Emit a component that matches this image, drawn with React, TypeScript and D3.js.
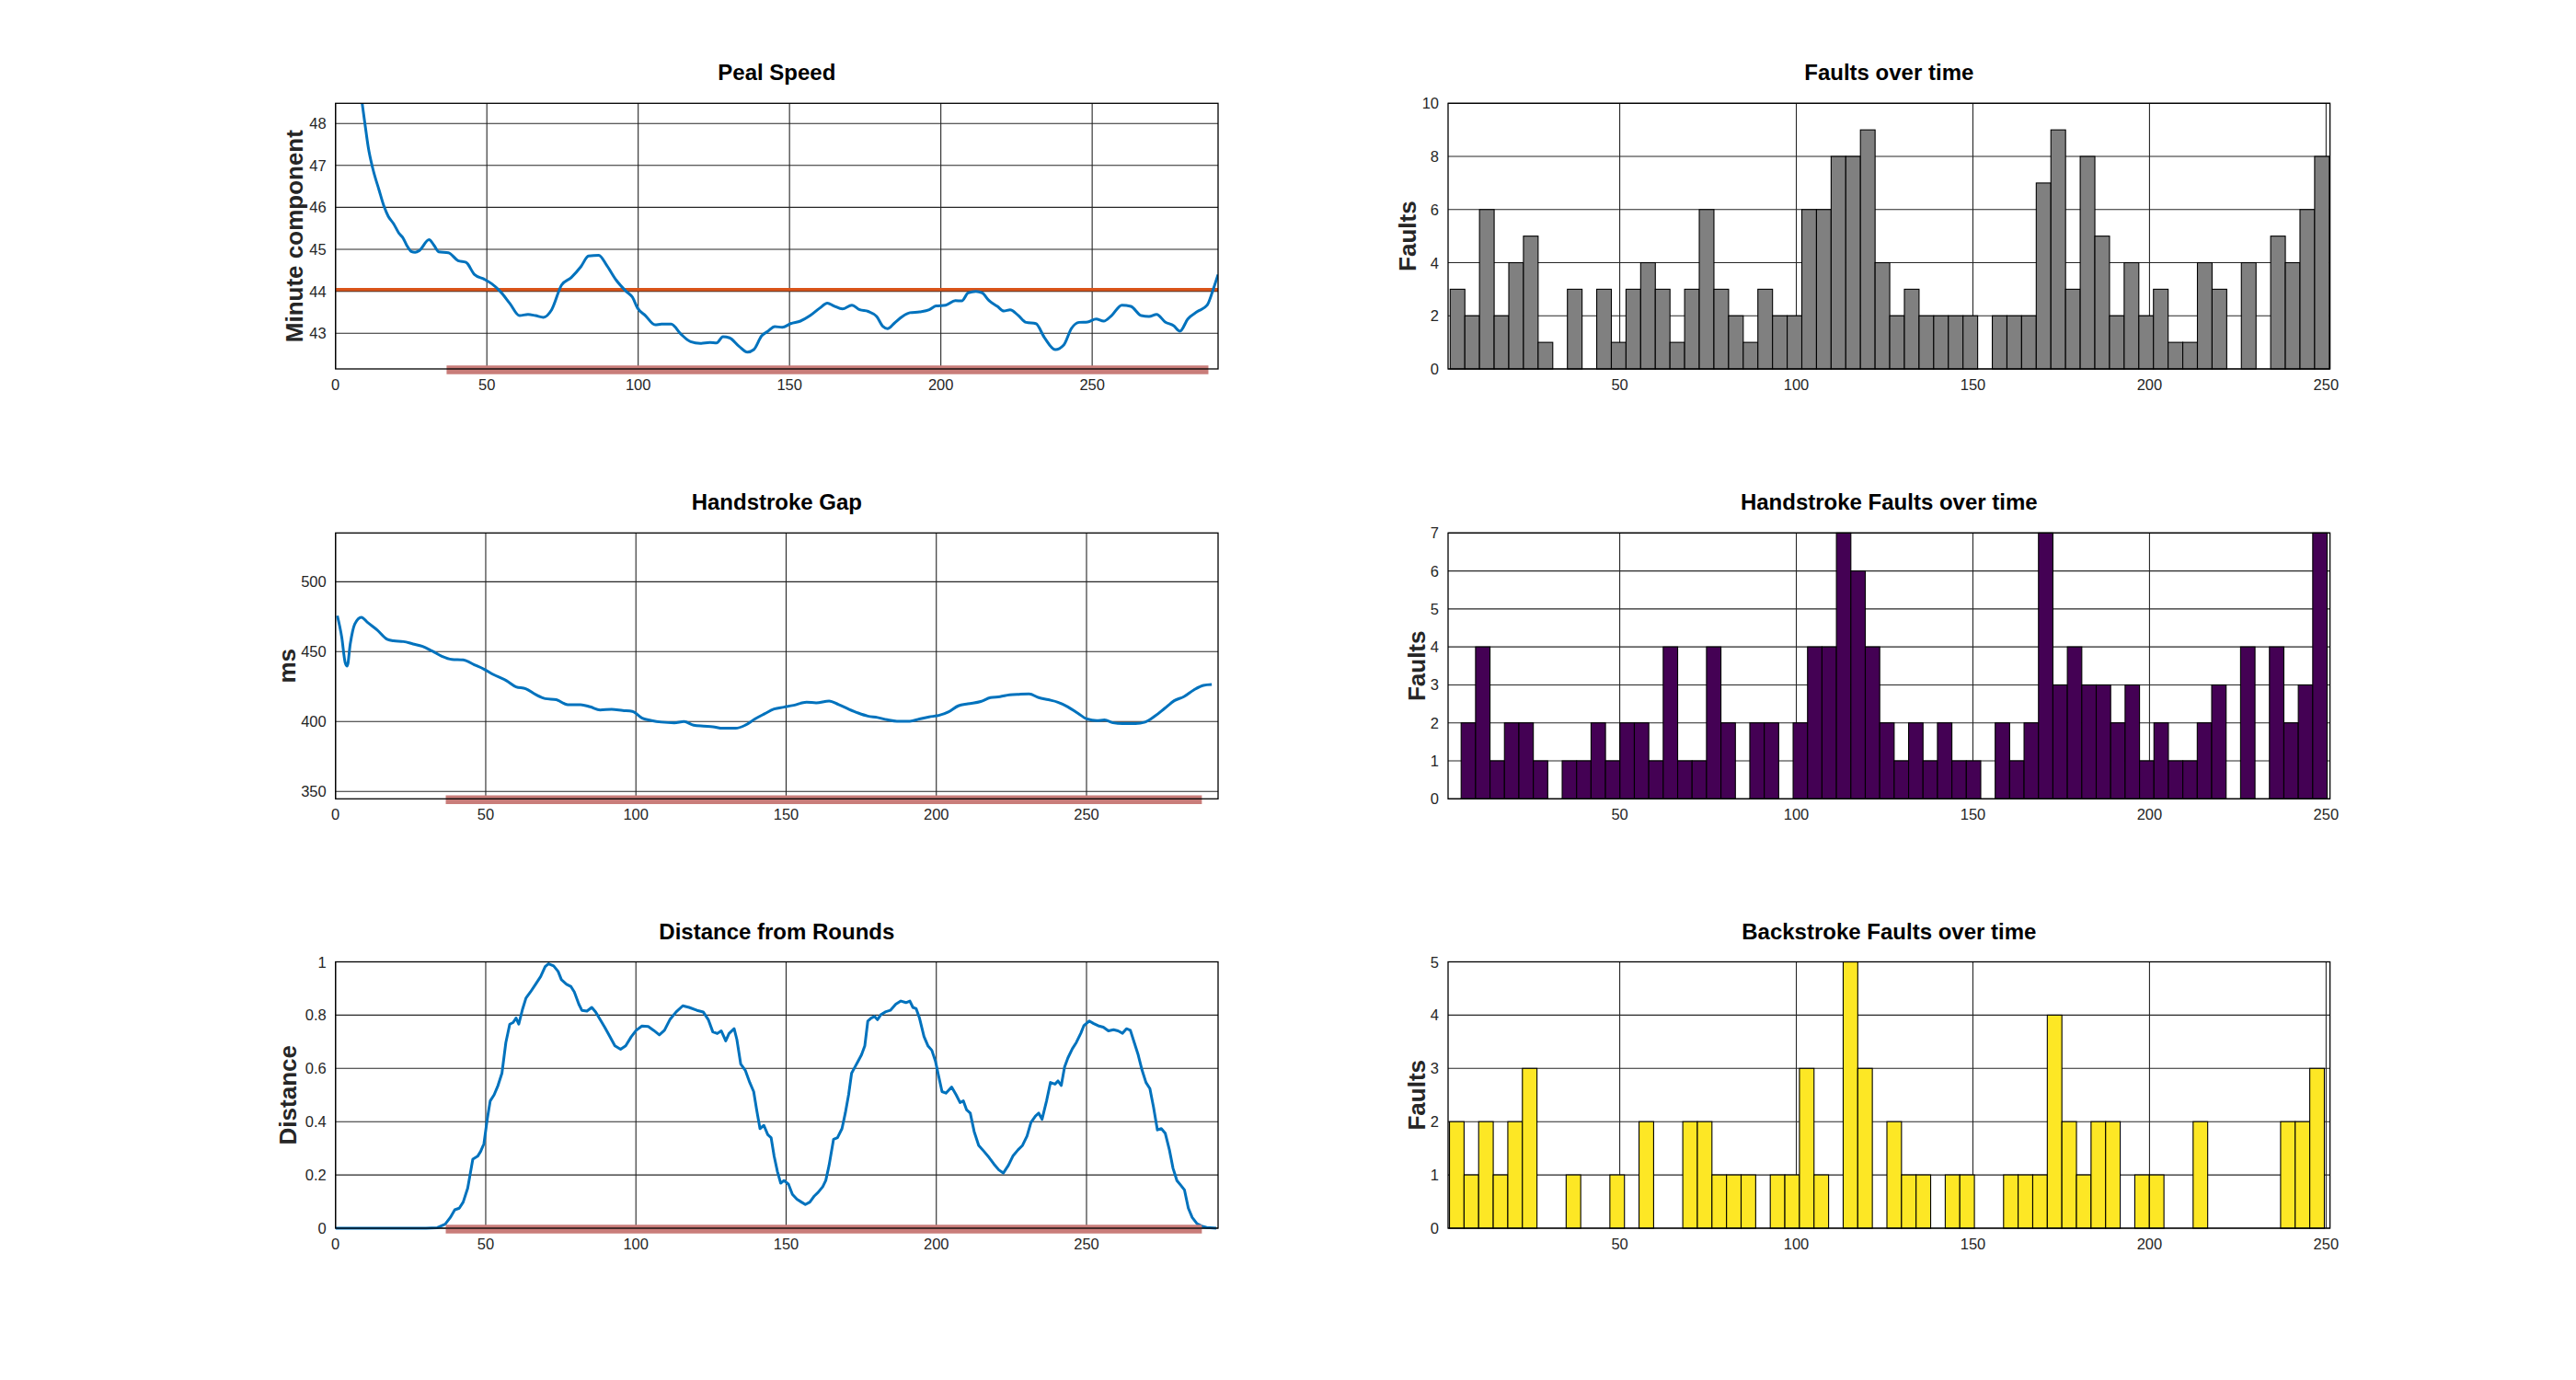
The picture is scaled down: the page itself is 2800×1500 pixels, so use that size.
import React from 'react';
import * as d3 from 'd3';

const FONT = '"Liberation Sans", Arial, Helvetica, sans-serif';

type Pt = [number, number];

// ---------- data ----------
const pealSpeed: Pt[] = [
  [8.8, 48.48], [9.8, 47.95], [10.8, 47.44], [12.3, 46.93], [14.4, 46.41], [16.0, 46.03], [17.4, 45.79],
  [19.2, 45.61], [20.9, 45.39], [22.4, 45.26], [23.5, 45.1], [25.0, 44.95], [26.3, 44.93], [27.7, 44.97],
  [30.9, 45.23], [32.5, 45.1], [34.1, 44.94], [37.3, 44.92], [40.5, 44.73], [43.1, 44.69], [45.9, 44.4],
  [49.1, 44.29], [51.6, 44.18], [54.4, 44.0], [57.6, 43.71], [60.8, 43.42], [63.6, 43.45], [66.1, 43.42],
  [68.7, 43.38], [71.4, 43.56], [74.7, 44.15], [77.9, 44.33], [81.1, 44.59], [83.6, 44.84], [87.0, 44.86],
  [89.6, 44.62], [92.8, 44.26], [96.0, 44.0], [98.1, 43.86], [99.8, 43.6], [102.4, 43.42], [105.6, 43.2],
  [107.7, 43.22], [110.9, 43.22], [114.1, 42.98], [117.3, 42.8], [120.5, 42.76], [123.7, 42.78],
  [125.9, 42.77], [128.0, 42.92], [130.2, 42.89], [133.3, 42.69], [136.1, 42.55], [138.2, 42.61],
  [140.8, 42.94], [142.9, 43.05], [145.1, 43.16], [147.6, 43.14], [150.4, 43.23], [153.6, 43.29],
  [156.8, 43.42], [160.0, 43.6], [162.5, 43.72], [164.7, 43.65], [167.5, 43.58], [170.6, 43.67],
  [173.2, 43.56], [176.0, 43.52], [178.8, 43.4], [180.9, 43.16], [182.4, 43.11], [184.5, 43.23],
  [187.3, 43.4], [189.8, 43.49], [193.0, 43.51], [196.2, 43.56], [198.4, 43.65], [201.6, 43.67],
  [204.8, 43.78], [206.9, 43.77], [209.0, 43.96], [211.6, 44.0], [213.7, 43.96], [215.9, 43.78],
  [218.7, 43.64], [220.8, 43.53], [222.9, 43.56], [225.5, 43.43], [228.2, 43.26], [231.4, 43.23],
  [234.2, 42.9], [237.8, 42.61], [240.6, 42.72], [243.2, 43.12], [245.7, 43.26], [248.5, 43.27],
  [251.3, 43.34], [253.8, 43.29], [256.4, 43.42], [259.8, 43.67], [262.8, 43.64], [266.2, 43.42],
  [268.8, 43.4], [271.3, 43.45], [274.1, 43.27], [276.9, 43.18], [279.0, 43.05], [281.6, 43.34],
  [284.8, 43.52], [288.0, 43.67], [290.1, 44.07], [291.6, 44.4],
];
const pealTarget = 44.04;

const handGap: Pt[] = [
  [0.6, 475.7], [2.1, 459.9], [3.2, 442.3], [3.9, 439.7], [4.9, 455.5], [6.4, 469.7], [8.6, 474.6],
  [10.7, 470.8], [13.9, 465.4], [17.2, 458.8], [19.3, 457.7], [22.6, 457.2], [25.8, 455.5], [29.0, 453.7],
  [32.2, 450.4], [35.4, 446.7], [38.7, 444.5], [42.5, 444.1], [46.2, 440.6], [49.4, 437.5], [52.6, 433.6],
  [56.9, 429.2], [60.1, 424.8], [63.3, 423.5], [66.6, 419.3], [69.8, 416.4], [73.5, 415.6], [77.3, 412.1],
  [81.6, 412.1], [84.8, 410.5], [88.1, 408.3], [91.9, 408.8], [95.6, 407.9], [98.8, 407.2], [102.1, 402.4],
  [105.2, 400.7], [108.5, 399.6], [112.8, 399.1], [116.0, 400.0], [119.2, 397.4], [122.4, 396.7],
  [125.6, 396.3], [128.9, 395.2], [133.2, 395.2], [136.4, 397.4], [139.6, 401.8], [142.8, 405.5],
  [146.0, 409.0], [149.3, 410.3], [152.5, 411.6], [156.8, 413.8], [160.0, 413.4], [164.3, 414.7],
  [167.5, 412.1], [170.7, 409.0], [174.0, 406.1], [177.2, 403.9], [180.4, 402.9], [183.6, 401.3],
  [186.9, 400.2], [191.2, 400.2], [194.4, 401.8], [197.6, 403.3], [200.8, 404.4], [204.0, 406.8],
  [207.3, 411.2], [210.5, 412.7], [214.8, 414.3], [218.0, 417.1], [221.2, 417.8], [224.4, 419.1],
  [227.7, 419.5], [230.9, 419.7], [234.1, 417.1], [237.3, 415.6], [240.5, 413.8], [243.8, 410.5],
  [247.0, 406.1], [250.2, 401.8], [253.4, 400.7], [256.0, 401.1], [258.8, 399.1], [262.0, 398.5],
  [266.3, 398.5], [269.5, 399.6], [272.8, 403.9], [276.0, 409.4], [279.2, 414.9], [282.4, 417.8],
  [285.7, 422.6], [288.9, 425.9], [291.7, 426.5],
];

const distance: Pt[] = [
  [0, 0], [30.1, 0], [33.9, 0.002], [36.5, 0.015], [38.2, 0.04], [39.7, 0.069], [41.2, 0.075],
  [42.5, 0.098], [44.0, 0.15], [45.7, 0.259], [47.3, 0.27], [48.3, 0.288], [49.4, 0.317], [50.5, 0.409],
  [51.5, 0.478], [52.8, 0.501], [54.1, 0.536], [55.4, 0.582], [56.7, 0.697], [58.0, 0.766], [59.1, 0.772],
  [60.1, 0.789], [61.0, 0.766], [62.3, 0.824], [63.4, 0.864], [64.9, 0.887], [66.6, 0.916], [68.3, 0.945],
  [69.8, 0.982], [70.9, 0.993], [72.6, 0.985], [74.1, 0.964], [75.2, 0.933], [76.9, 0.916], [78.4, 0.907],
  [79.5, 0.887], [81.0, 0.841], [82.0, 0.818], [83.7, 0.815], [85.3, 0.829], [86.6, 0.812], [88.1, 0.783],
  [89.6, 0.755], [91.3, 0.72], [93.0, 0.685], [94.9, 0.672], [96.6, 0.685], [98.4, 0.718], [100.1, 0.743],
  [102.0, 0.759], [104.1, 0.757], [105.9, 0.743], [107.8, 0.726], [109.5, 0.743], [111.3, 0.783],
  [113.4, 0.812], [115.6, 0.835], [117.7, 0.829], [120.3, 0.818], [122.4, 0.812], [124.1, 0.783],
  [125.6, 0.737], [127.1, 0.731], [128.4, 0.741], [129.9, 0.703], [131.0, 0.731], [132.7, 0.749],
  [133.6, 0.709], [134.9, 0.616], [136.4, 0.593], [137.9, 0.547], [139.2, 0.513], [140.2, 0.444],
  [141.3, 0.374], [142.6, 0.386], [143.9, 0.351], [145.0, 0.34], [146.0, 0.271], [147.1, 0.213],
  [148.2, 0.169], [149.3, 0.179], [150.8, 0.165], [152.1, 0.127], [153.6, 0.109], [155.1, 0.098],
  [156.4, 0.089], [157.9, 0.098], [159.4, 0.121], [160.7, 0.135], [162.2, 0.156], [163.2, 0.179],
  [164.3, 0.236], [165.8, 0.334], [167.1, 0.34], [168.6, 0.374], [169.7, 0.432], [170.8, 0.501],
  [171.8, 0.582], [172.9, 0.605], [174.0, 0.628], [175.1, 0.651], [176.2, 0.685], [177.2, 0.778],
  [178.3, 0.789], [179.4, 0.795], [180.4, 0.783], [181.5, 0.801], [183.0, 0.812], [184.7, 0.818],
  [186.5, 0.841], [188.2, 0.853], [189.9, 0.847], [191.2, 0.853], [192.2, 0.829], [193.3, 0.824],
  [194.4, 0.789], [195.9, 0.72], [197.2, 0.685], [198.5, 0.668], [199.7, 0.628], [200.8, 0.57],
  [201.9, 0.513], [203.2, 0.507], [205.1, 0.53], [206.6, 0.501], [207.9, 0.472], [209.0, 0.478],
  [210.1, 0.444], [211.3, 0.432], [212.6, 0.363], [214.1, 0.311], [215.9, 0.288], [217.6, 0.265],
  [219.1, 0.242], [220.8, 0.219], [222.3, 0.207], [224.0, 0.236], [225.5, 0.271], [227.2, 0.294],
  [228.7, 0.311], [230.2, 0.346], [231.5, 0.397], [233.0, 0.421], [234.1, 0.432], [235.2, 0.409],
  [236.7, 0.478], [238.0, 0.547], [239.5, 0.541], [240.5, 0.553], [241.6, 0.536], [242.7, 0.605],
  [243.8, 0.639], [245.3, 0.674], [246.6, 0.697], [248.1, 0.732], [249.1, 0.76], [250.9, 0.778],
  [252.4, 0.768], [253.9, 0.76], [255.6, 0.755], [257.3, 0.741], [259.0, 0.745], [260.5, 0.741],
  [262.0, 0.732], [263.3, 0.749], [264.6, 0.743], [265.9, 0.697], [267.2, 0.651], [268.5, 0.593],
  [269.8, 0.547], [271.1, 0.524], [272.3, 0.455], [273.6, 0.369], [274.9, 0.374], [276.2, 0.357],
  [277.6, 0.294], [278.8, 0.225], [280.1, 0.179], [281.4, 0.161], [282.6, 0.144], [283.9, 0.075],
  [285.2, 0.04], [286.8, 0.017], [288.3, 0.008], [290.0, 0.003], [293.2, 0],
];

const highlightRange = [36.7, 288.4];

const totalFaults = [3, 2, 6, 2, 4, 5, 1, 0, 3, 0, 3, 1, 3, 4, 3, 1, 3, 6, 3, 2, 1, 3, 2, 2, 6, 6, 8, 8, 9, 4,
  2, 3, 2, 2, 2, 2, 0, 2, 2, 2, 7, 9, 3, 8, 5, 2, 4, 2, 3, 1, 1, 4, 3, 0, 4, 0, 5, 4, 6, 8];
const handFaults = [2, 4, 1, 2, 2, 1, 0, 1, 1, 2, 1, 2, 2, 1, 4, 1, 1, 4, 2, 0, 2, 2, 0, 2, 4, 4, 7, 6, 4, 2,
  1, 2, 1, 2, 1, 1, 0, 2, 1, 2, 7, 3, 4, 3, 3, 2, 3, 1, 2, 1, 1, 2, 3, 0, 4, 0, 4, 2, 3, 7];
const backFaults = [2, 1, 2, 1, 2, 3, 0, 0, 1, 0, 0, 1, 0, 2, 0, 0, 2, 2, 1, 1, 1, 0, 1, 1, 3, 1, 0, 5, 3, 0,
  2, 1, 1, 0, 1, 1, 0, 0, 1, 1, 1, 4, 2, 1, 2, 2, 0, 1, 1, 0, 0, 2, 0, 0, 0, 0, 0, 2, 2, 3];

const totalRange = [2.0, 250.9];
const handRange = [5.1, 250.3];
const backRange = [1.8, 249.5];

const lineXTicks = [0, 50, 100, 150, 200, 250];
const barXTicks = [50, 100, 150, 200, 250];
const speedYTicks = [43, 44, 45, 46, 47, 48];
const gapYTicks = [350, 400, 450, 500];
const distYTicks = [0, 0.2, 0.4, 0.6, 0.8, 1];
const totalYTicks = [0, 2, 4, 6, 8, 10];
const handYTicks = [0, 1, 2, 3, 4, 5, 6, 7];
const backYTicks = [0, 1, 2, 3, 4, 5];

// ---------- layout ----------
const LEFT = { x0: 364.7, x1: 1324 };
const RIGHT = { x0: 1574, x1: 2532.6 };
const ROWS = [
  { top: 112.3, bottom: 401 },
  { top: 579.3, bottom: 868.3 },
  { top: 1045.5, bottom: 1335 },
];

const BLUE = '#0072BD';
const ORANGE = '#D95319';
const HILITE = '#c97d7a';
const GRID = '#262626';
const TEXT = '#262626';

const fmt = (v: number) => String(+v.toFixed(2));

interface FrameProps {
  x0: number; x1: number; top: number; bottom: number;
  xScale: d3.ScaleLinear<number, number>; yScale: d3.ScaleLinear<number, number>;
  xTicks: number[]; yTicks: number[]; title: string; ylabel: string; labelOffset: number;
}

function Grid({ x0, x1, top, bottom, xScale, yScale, xTicks, yTicks }: FrameProps) {
  return (
    <g>
      {xTicks.map((t) => (
        <line key={'gx' + t} x1={xScale(t)} x2={xScale(t)} y1={top} y2={bottom} stroke={GRID} strokeWidth={1.1} />
      ))}
      {yTicks.map((t) => (
        <line key={'gy' + t} x1={x0} x2={x1} y1={yScale(t)} y2={yScale(t)} stroke={GRID} strokeWidth={1.1} />
      ))}
    </g>
  );
}

function Decor({ x0, x1, top, bottom, xScale, yScale, xTicks, yTicks, title, ylabel, labelOffset }: FrameProps) {
  const midY = (top + bottom) / 2;
  return (
    <g fontFamily={FONT}>
      <rect x={x0} y={top} width={x1 - x0} height={bottom - top} fill="none" stroke="#000" strokeWidth={1.3} />
      {xTicks.map((t) => (
        <text key={'tx' + t} x={xScale(t)} y={bottom + 23} textAnchor="middle" fontSize={16.5} fill={TEXT}>
          {fmt(t)}
        </text>
      ))}
      {yTicks.map((t) => (
        <text key={'ty' + t} x={x0 - 10} y={yScale(t) + 6} textAnchor="end" fontSize={16.5} fill={TEXT}>
          {fmt(t)}
        </text>
      ))}
      <text x={(x0 + x1) / 2} y={top - 25} textAnchor="middle" fontSize={24} fontWeight="bold" fill="#000">
        {title}
      </text>
      <text
        transform={`translate(${x0 - labelOffset},${midY}) rotate(-90)`}
        textAnchor="middle"
        fontSize={26}
        fontWeight="bold"
        fill={TEXT}
      >
        {ylabel}
      </text>
    </g>
  );
}

interface LineProps {
  id: string; row: number; data: Pt[]; xMax: number; yDomain: [number, number]; yTicks: number[];
  title: string; ylabel: string; labelOffset: number; hline?: number; smooth?: boolean;
}

function LinePanel({ id, row, data, xMax, yDomain, yTicks, title, ylabel, labelOffset, hline, smooth }: LineProps) {
  const { x0, x1 } = LEFT;
  const { top, bottom } = ROWS[row];
  const xScale = d3.scaleLinear().domain([0, xMax]).range([x0, x1]);
  const yScale = d3.scaleLinear().domain(yDomain).range([bottom, top]);
  const line = d3.line<Pt>().x((d) => xScale(d[0])).y((d) => yScale(d[1]))
    .curve(smooth ? d3.curveMonotoneX : d3.curveLinear);
  const frame: FrameProps = { x0, x1, top, bottom, xScale, yScale, xTicks: lineXTicks, yTicks, title, ylabel, labelOffset };
  return (
    <g>
      <clipPath id={id}>
        <rect x={x0} y={top - 2} width={x1 - x0} height={bottom - top + 4} />
      </clipPath>
      <Grid {...frame} />
      {hline !== undefined && (
        <line x1={x0} x2={x1} y1={yScale(hline)} y2={yScale(hline)} stroke={ORANGE} strokeWidth={3.4} />
      )}
      <path d={line(data) || ''} fill="none" stroke={BLUE} strokeWidth={3} strokeLinejoin="round" clipPath={`url(#${id})`} />
      <line
        x1={xScale(highlightRange[0])}
        x2={xScale(highlightRange[1])}
        y1={yScale(yDomain[0]) + 1}
        y2={yScale(yDomain[0]) + 1}
        stroke={HILITE}
        strokeWidth={9.5}
      />
      <Decor {...frame} />
    </g>
  );
}

interface BarProps {
  row: number; counts: number[]; range: number[]; yMax: number; yTicks: number[]; title: string;
  color: string; labelOffset: number;
}

function BarPanel({ row, counts, range, yMax, yTicks, title, color, labelOffset }: BarProps) {
  const { x0, x1 } = RIGHT;
  const { top, bottom } = ROWS[row];
  const xScale = d3.scaleLinear().domain([1.4, 251.1]).range([x0, x1]);
  const yScale = d3.scaleLinear().domain([0, yMax]).range([bottom, top]);
  const w = (range[1] - range[0]) / counts.length;
  const frame: FrameProps = { x0, x1, top, bottom, xScale, yScale, xTicks: barXTicks, yTicks, title, ylabel: 'Faults', labelOffset };
  return (
    <g>
      <Grid {...frame} />
      {counts.map((c, i) =>
        c > 0 ? (
          <rect
            key={i}
            x={xScale(range[0] + i * w)}
            y={yScale(c)}
            width={xScale(range[0] + (i + 1) * w) - xScale(range[0] + i * w)}
            height={yScale(0) - yScale(c)}
            fill={color}
            stroke="#000"
            strokeWidth={1.1}
          />
        ) : null
      )}
      <Decor {...frame} />
    </g>
  );
}

export default function App() {
  return (
    <svg
      width={2800}
      height={1500}
      viewBox="0 0 2800 1500"
      style={{ position: 'absolute', left: 0, top: 0, background: '#fff' }}
    >
      <rect x={0} y={0} width={2800} height={1500} fill="#fff" />
      <LinePanel id="c1" row={0} data={pealSpeed} xMax={291.6} yDomain={[42.15, 48.48]} yTicks={speedYTicks}
        title="Peal Speed" ylabel="Minute component" labelOffset={36} hline={pealTarget} smooth />
      <LinePanel id="c2" row={1} data={handGap} xMax={293.8} yDomain={[344.7, 534.9]} yTicks={gapYTicks}
        title="Handstroke Gap" ylabel="ms" labelOffset={44} smooth />
      <LinePanel id="c3" row={2} data={distance} xMax={293.8} yDomain={[0, 1]} yTicks={distYTicks}
        title="Distance from Rounds" ylabel="Distance" labelOffset={43} />
      <BarPanel row={0} counts={totalFaults} range={totalRange} yMax={10} yTicks={totalYTicks}
        title="Faults over time" color="#808080" labelOffset={35} />
      <BarPanel row={1} counts={handFaults} range={handRange} yMax={7} yTicks={handYTicks}
        title="Handstroke Faults over time" color="#440154" labelOffset={25} />
      <BarPanel row={2} counts={backFaults} range={backRange} yMax={5} yTicks={backYTicks}
        title="Backstroke Faults over time" color="#FDE725" labelOffset={25} />
    </svg>
  );
}
